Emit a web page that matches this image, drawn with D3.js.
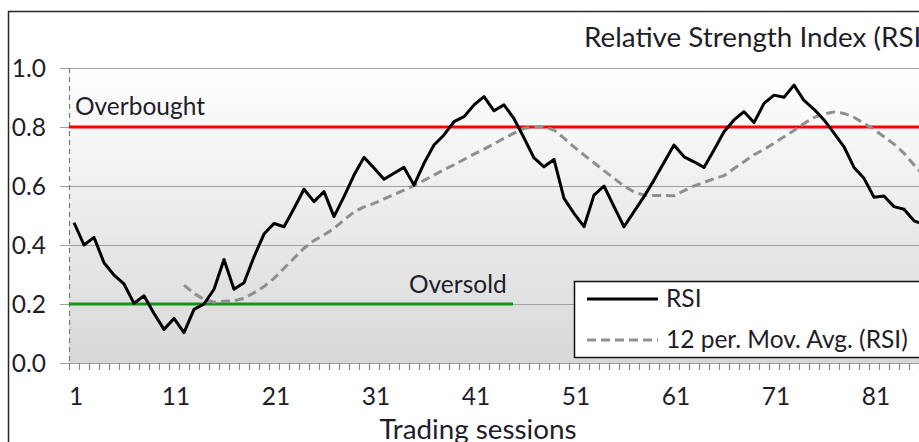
<!DOCTYPE html>
<html>
<head>
<meta charset="utf-8">
<script src="https://cdn.jsdelivr.net/npm/d3@7"></script>
<style>
  html, body { margin: 0; padding: 0; background: #fff; overflow: hidden; }
  svg { display: block; }
  text { font-family: Lato, "Liberation Sans", sans-serif; fill: #1e1e2a; }
</style>
</head>
<body>
<svg id="chart" width="919" height="442"></svg>
<script>
// ---- data ----
const categories = d3.range(1, 87);
const tickLabels = ["1", "11", "21", "31", "41", "51", "61", "71", "81"];
const yTicks = [0.0, 0.2, 0.4, 0.6, 0.8, 1.0];
const rsi = [
  0.476, 0.400, 0.426, 0.340, 0.298, 0.268, 0.202, 0.228, 0.168, 0.114,
  0.151, 0.103, 0.182, 0.200, 0.250, 0.351, 0.250, 0.272, 0.360, 0.437,
  0.473, 0.462, 0.524, 0.589, 0.547, 0.581, 0.496, 0.564, 0.637, 0.697,
  0.661, 0.623, 0.643, 0.663, 0.603, 0.677, 0.739, 0.773, 0.818, 0.835,
  0.875, 0.903, 0.855, 0.875, 0.828, 0.763, 0.695, 0.665, 0.690, 0.558,
  0.507, 0.462, 0.569, 0.600, 0.530, 0.462, 0.513, 0.564, 0.620, 0.680,
  0.739, 0.699, 0.682, 0.663, 0.722, 0.784, 0.824, 0.852, 0.815, 0.880,
  0.908, 0.901, 0.942, 0.890, 0.860, 0.824, 0.779, 0.733, 0.663, 0.626,
  0.562, 0.566, 0.530, 0.521, 0.482, 0.470
];
const movAvg = [
  null, null, null, null, null, null, null, null, null, null,
  null, 0.264, 0.236, 0.216, 0.206, 0.209, 0.211, 0.219, 0.238, 0.259,
  0.287, 0.321, 0.355, 0.389, 0.415, 0.434, 0.456, 0.485, 0.512, 0.529,
  0.541, 0.556, 0.571, 0.586, 0.602, 0.619, 0.637, 0.655, 0.672, 0.690,
  0.708, 0.725, 0.743, 0.762, 0.779, 0.795, 0.800, 0.800, 0.790, 0.762,
  0.733, 0.705, 0.679, 0.652, 0.626, 0.600, 0.580, 0.569, 0.568, 0.568,
  0.567, 0.584, 0.600, 0.612, 0.625, 0.635, 0.659, 0.682, 0.706, 0.724,
  0.745, 0.767, 0.788, 0.812, 0.832, 0.844, 0.851, 0.846, 0.833, 0.812,
  0.792, 0.767, 0.742, 0.711, 0.671, 0.635
];
const overboughtLevel = 0.8;
const oversoldLevel = 0.2;
const oversoldEnd = 45;
const title = "Relative Strength Index (RSI)";
const xTitle = "Trading sessions";
const legendLabels = ["RSI", "12 per. Mov. Avg. (RSI)"];

// ---- layout ----
const svg = d3.select("#chart");
const plotLeft = 69, plotTop = 68, plotBottom = 363;
const step = 10;
const fs = 24.5, fsTitle = 27.8;
const x = d3.scaleBand().domain(categories).range([plotLeft, plotLeft + step * categories.length]).padding(0);
const cx = d => x(d) + x.bandwidth() / 2;
const y = d3.scaleLinear().domain([0, 1]).range([plotBottom, plotTop]);
const plotRight = plotLeft + step * categories.length;

const defs = svg.append("defs");
const grad = defs.append("linearGradient").attr("id", "bg").attr("x1", 0).attr("y1", 0).attr("x2", 0).attr("y2", 1);
grad.append("stop").attr("offset", "0%").attr("stop-color", "#ffffff");
grad.append("stop").attr("offset", "100%").attr("stop-color", "#d8d8d8");

// outer chart border
svg.append("rect").attr("x", 8.5).attr("y", 11.5).attr("width", 1100).attr("height", 500)
  .attr("fill", "#fff").attr("stroke", "#262626").attr("stroke-width", 1.5);

// plot background
svg.append("rect").attr("x", plotLeft).attr("y", plotTop)
  .attr("width", plotRight - plotLeft).attr("height", plotBottom - plotTop)
  .attr("fill", "url(#bg)");

// gridlines
svg.append("g").selectAll("line").data(yTicks).join("line")
  .attr("x1", plotLeft - 9).attr("x2", plotRight)
  .attr("y1", d => Math.round(y(d)) + 0.5).attr("y2", d => Math.round(y(d)) + 0.5)
  .attr("stroke", "#a0a0a0").attr("stroke-width", 1.2);

// y axis labels
const yAxis = d3.axisLeft(y).tickValues(yTicks).tickFormat(d3.format(".1f")).tickSize(0).tickPadding(0);
const gy = svg.append("g").attr("transform", `translate(46,0)`).call(yAxis);
gy.select(".domain").remove();
gy.selectAll("text").attr("font-size", fs).attr("dy", "0.35em").attr("font-family", "Lato, 'Liberation Sans', sans-serif").attr("fill", "#1e1e2a");

// y axis dashed line
svg.append("line").attr("x1", plotLeft + 0.5).attr("x2", plotLeft + 0.5)
  .attr("y1", plotTop).attr("y2", plotBottom)
  .attr("stroke", "#7a7a7a").attr("stroke-width", 1.2).attr("stroke-dasharray", "5,4");

// x axis ticks
const tickPositions = categories.map(d => x(d)).concat([plotRight]);
svg.append("g").selectAll("line").data(tickPositions).join("line")
  .attr("x1", d => d + 0.5).attr("x2", d => d + 0.5)
  .attr("y1", plotBottom).attr("y2", plotBottom + 7)
  .attr("stroke", "#8a8a8a").attr("stroke-width", 1.2);

// x labels
const xAxis = d3.axisBottom(x).tickValues(tickLabels.map(Number)).tickSize(0).tickPadding(0);
const gx = svg.append("g").attr("transform", `translate(2,${plotBottom})`).call(xAxis);
gx.select(".domain").remove();
gx.selectAll("text").attr("font-size", fs).attr("y", 42).attr("dy", 0)
  .attr("font-family", "Lato, 'Liberation Sans', sans-serif").attr("fill", "#1e1e2a");

// overbought / oversold lines
svg.append("line").attr("x1", plotLeft).attr("x2", plotRight)
  .attr("y1", y(overboughtLevel)).attr("y2", y(overboughtLevel))
  .attr("stroke", "#ff0000").attr("stroke-width", 3.2);
svg.append("line").attr("x1", plotLeft).attr("x2", cx(oversoldEnd) - 1)
  .attr("y1", y(oversoldLevel)).attr("y2", y(oversoldLevel))
  .attr("stroke", "#149414").attr("stroke-width", 3.2);

svg.append("text").attr("x", 75).attr("y", 115).attr("font-size", fs).text("Overbought");
svg.append("text").attr("x", 409).attr("y", 293).attr("font-size", fs).text("Oversold");

// series
const line = d3.line().defined(d => d.v != null).x(d => cx(d.c)).y(d => y(d.v));
svg.append("path")
  .datum(categories.map((c, i) => ({ c, v: movAvg[i] })))
  .attr("d", line).attr("fill", "none").attr("stroke", "#8f8f8f")
  .attr("stroke-width", 3).attr("stroke-dasharray", "9,5");
svg.append("path")
  .datum(categories.map((c, i) => ({ c, v: rsi[i] })))
  .attr("d", line).attr("fill", "none").attr("stroke", "#000")
  .attr("stroke-width", 3).attr("stroke-linejoin", "round");

// title
svg.append("text").attr("x", 584).attr("y", 47).attr("font-size", fsTitle).text(title);

// x axis title
svg.append("text").attr("x", 478).attr("y", 439).attr("text-anchor", "middle").attr("font-size", fsTitle).text(xTitle);

// legend
const lg = svg.append("g");
lg.append("rect").attr("x", 574.5).attr("y", 281.5).attr("width", 420).attr("height", 76)
  .attr("fill", "#fff").attr("stroke", "#111").attr("stroke-width", 1.5);
lg.append("line").attr("x1", 587).attr("x2", 658).attr("y1", 299).attr("y2", 299)
  .attr("stroke", "#000").attr("stroke-width", 3);
lg.append("line").attr("x1", 587).attr("x2", 658).attr("y1", 340).attr("y2", 340)
  .attr("stroke", "#8f8f8f").attr("stroke-width", 3).attr("stroke-dasharray", "9,5");
lg.append("text").attr("x", 666).attr("y", 307).attr("font-size", fs).text(legendLabels[0]);
lg.append("text").attr("x", 666).attr("y", 348).attr("font-size", fs).text(legendLabels[1]);
</script>
</body>
</html>
